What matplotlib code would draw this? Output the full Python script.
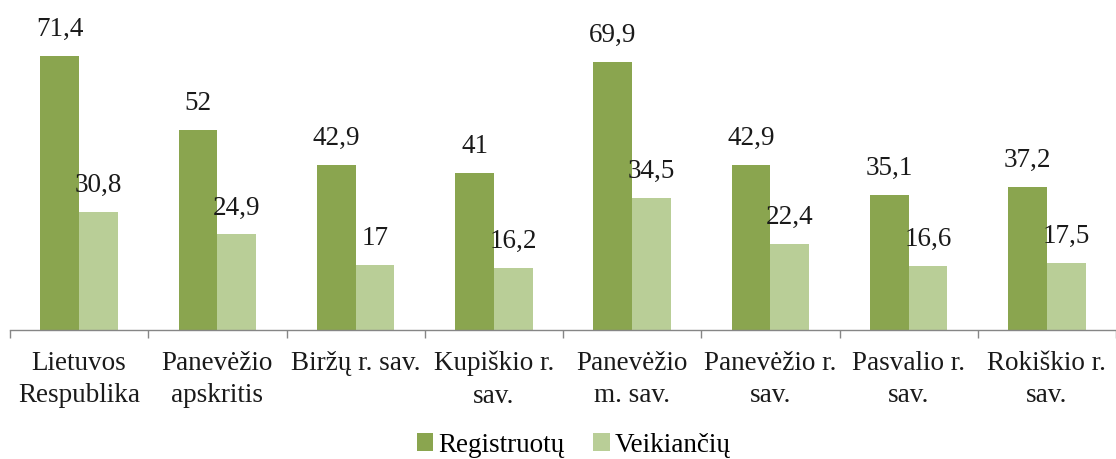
import matplotlib
matplotlib.use("Agg")
import matplotlib.pyplot as plt
import numpy as np

categories = ["Lietuvos\nRespublika", "Panevėžio\napskritis", "Biržų r. sav.", "Kupiškio r.\nsav.",
              "Panevėžio\nm. sav.", "Panevėžio r.\nsav.", "Pasvalio r.\nsav.", "Rokiškio r.\nsav."]
registruotu = [71.4, 52, 42.9, 41, 69.9, 42.9, 35.1, 37.2]
veikianciu = [30.8, 24.9, 17, 16.2, 34.5, 22.4, 16.6, 17.5]
series_names = ["Registruotų", "Veikiančių"]

plt.rcParams['font.family'] = ['Liberation Serif', 'DejaVu Serif']
FS = 19.5

W, H = 1116, 459
fig = plt.figure(figsize=(W/100, H/100), dpi=100)
left = 10 / W
base_y = 330
bottom = (H - base_y) / H
ax = fig.add_axes([left, bottom, 1 - left, 1 - bottom])

dark = "#8AA54F"
light = "#B9CE97"
x = np.arange(len(categories))
bw = 0.28
b1 = ax.bar(x - bw/2, registruotu, bw, color=dark, label=series_names[0])
b2 = ax.bar(x + bw/2, veikianciu, bw, color=light, label=series_names[1])

def fmt(v):
    s = f"{v:g}"
    return s.replace(".", ",")

for bars, vals in ((b1, registruotu), (b2, veikianciu)):
    for r, v in zip(bars, vals):
        ax.annotate(fmt(v), (r.get_x() + r.get_width()/2, v), xytext=(0, 10),
                    textcoords="offset points", ha="center", va="bottom",
                    fontsize=FS, color="#1a1a1a", annotation_clip=False)

px_per_unit = 3.84
ax.set_ylim(0, base_y / px_per_unit)
catw = (985 - 10) / 7
ax.set_xlim(-0.5, -0.5 + (W - 10) / catw)

for s in ("top", "right", "left"):
    ax.spines[s].set_visible(False)
ax.spines["bottom"].set_color("#868686")
ax.spines["bottom"].set_linewidth(1.0)
ax.set_yticks([])

ax.set_xticks(np.arange(len(categories) + 1) - 0.5)
ax.set_xticklabels([])
ax.tick_params(axis="x", which="major", direction="out", length=6, color="#868686", width=1.0)
ax.set_xticks(x, minor=True)
ax.set_xticklabels(categories, minor=True, fontsize=FS, linespacing=1.38, color="#1a1a1a")
ax.tick_params(axis="x", which="minor", length=0, pad=15)

fig.legend(handles=[b1, b2], labels=series_names, loc="center", bbox_to_anchor=(574/W, 1 - 445/H),
           ncol=2, frameon=False, fontsize=FS, handlelength=0.6, handleheight=0.6,
           handletextpad=0.2, columnspacing=1.05, borderpad=0)

fig.savefig("out.png", dpi=100)
